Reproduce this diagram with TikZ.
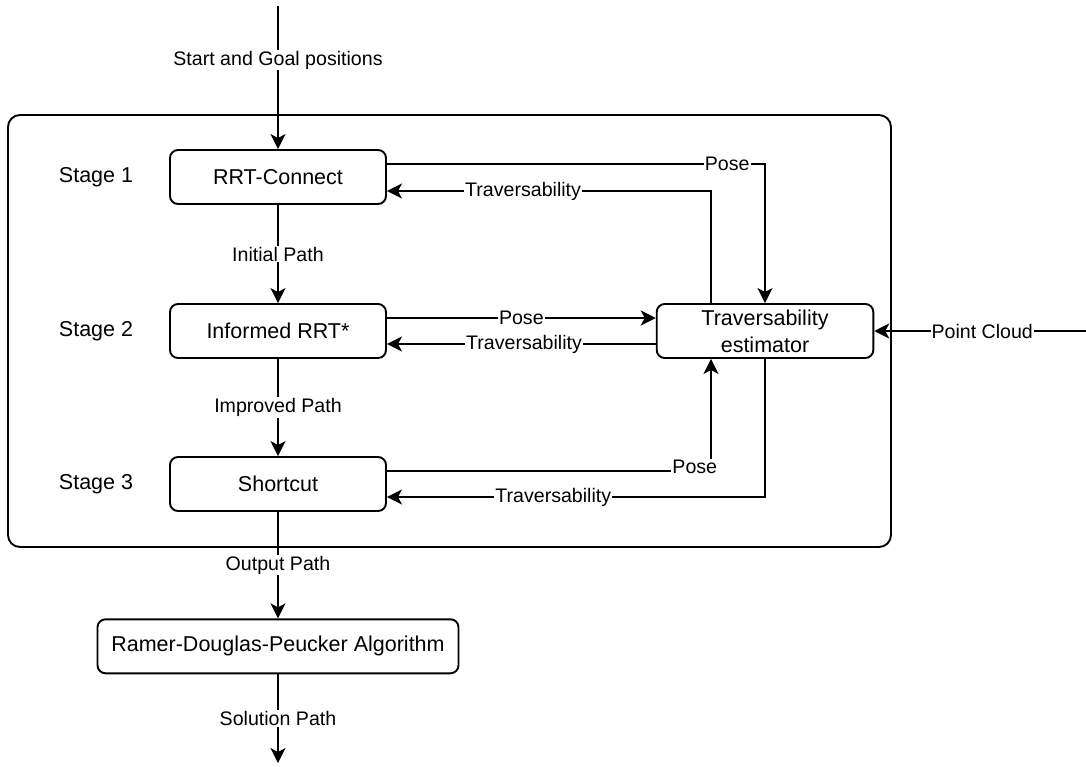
\documentclass[tikz,border=0pt]{standalone}
\usepackage{fontspec}
\setmainfont{Liberation Sans}
\usetikzlibrary{arrows.meta}
\tikzset{
  box/.style={draw, line width=1.9pt, rounded corners=8pt, minimum height=54pt, inner sep=0pt, align=center, font=\fontsize{21.5}{27}\selectfont},
  container/.style={draw, line width=1.9pt, rounded corners=12pt, inner sep=0pt},
  stagelbl/.style={inner sep=0pt, font=\fontsize{21.5}{25}\selectfont},
  flow/.style={line width=1.9pt, -{Stealth[length=15pt, width=15pt, inset=4pt]}},
  lbl/.style={fill=white, inner sep=1pt, font=\fontsize{19.6}{23}\selectfont},
}
\begin{document}
\begin{tikzpicture}[x=1pt, y=-1pt]
\useasboundingbox (0,0) rectangle (1086,766);
% container
\node[container, minimum width=883pt, minimum height=432pt] (outer) at (449.5,331) {};
% nodes
\node[box, minimum width=216pt] (rrt) at (278,177) {RRT-Connect};
\node[box, minimum width=216pt] (inf) at (278,331) {Informed RRT*};
\node[box, minimum width=216pt] (sc) at (278,484) {Shortcut};
\node[box, minimum width=216.6pt] (est) at (765,331) {Traversability\\estimator};
\node[box, minimum width=361pt] (rdp) at (278,646.3) {Ramer-Douglas-Peucker Algorithm};
\node[stagelbl] (s1) at (96,177) {Stage 1};
\node[stagelbl] (s2) at (96,331) {Stage 2};
\node[stagelbl] (s3) at (96,484) {Stage 3};
\coordinate (top) at (278,6);
\coordinate (bot) at (278,763);
\coordinate (pc) at (1086,331);
% vertical flow
\draw[flow] (top) -- node[lbl, pos=0.38] {Start and Goal positions} (rrt);
\draw[flow] (rrt) -- node[lbl] {Initial Path} (inf);
\draw[flow] (inf) -- node[lbl] {Improved Path} (sc);
\draw[flow] (sc) -- node[lbl] {Output Path} (rdp);
\draw[flow] (rdp) -- node[lbl] {Solution Path} (bot);
% stage 1
\draw[flow] ([yshift=13pt]rrt.east) -| node[lbl, pos=0.45] {Pose} (est.north);
\draw[flow] ([xshift=-54pt]est.north) |- node[lbl, pos=0.79] {Traversability} ([yshift=-14pt]rrt.east);
% stage 2
\draw[flow] ([yshift=13pt]inf.east) -- node[lbl, pos=0.5] {Pose} ([yshift=13pt]est.west);
\draw[flow] ([yshift=-13pt]est.west) -- node[lbl, pos=0.49] {Traversability} ([yshift=-13pt]inf.east);
% stage 3
\draw[flow] ([yshift=13pt]sc.east) -| node[lbl, pos=0.475, yshift=4pt] {Pose} ([xshift=-54pt]est.south);
\draw[flow] (est.south) |- node[lbl, pos=0.78] {Traversability} ([yshift=-13pt]sc.east);
% point cloud
\draw[flow] (pc) -- node[lbl, pos=0.49] {Point Cloud} (est.east);
\end{tikzpicture}
\end{document}
